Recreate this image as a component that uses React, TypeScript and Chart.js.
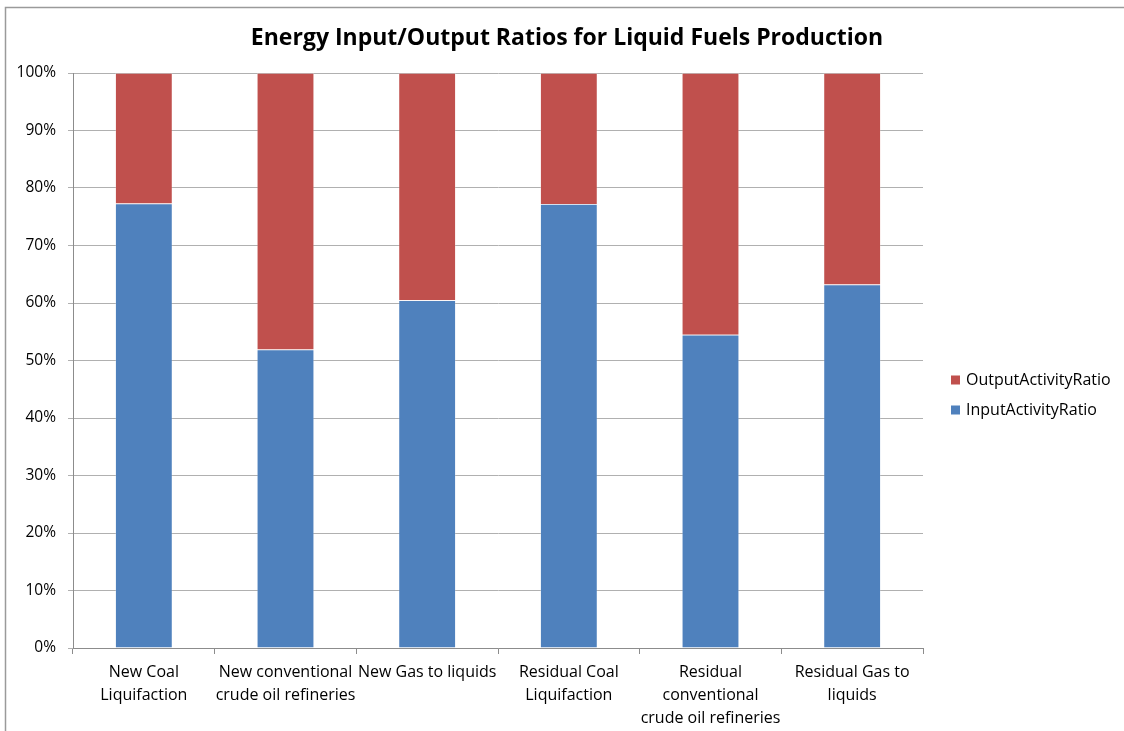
import React, { useEffect, useRef } from "react";
import { Chart, registerables } from "chart.js";

Chart.register(...registerables);

const chartTitle = "Energy Input/Output Ratios for Liquid Fuels Production";

const categories: string[][] = [
  ["New Coal", "Liquifaction"],
  ["New conventional", "crude oil refineries"],
  ["New Gas to liquids"],
  ["Residual Coal", "Liquifaction"],
  ["Residual", "conventional", "crude oil refineries"],
  ["Residual Gas to", "liquids"],
];

const inputActivityRatio = [77.3, 51.9, 60.5, 77.2, 54.5, 63.2];
const outputActivityRatio = [22.7, 48.1, 39.5, 22.8, 45.5, 36.8];

const yTicks = [0, 10, 20, 30, 40, 50, 60, 70, 80, 90, 100];

const FONT = "'Open Sans', 'Noto Sans', sans-serif";

// Outer frame of the chart object (left and top edges visible) and the title
const framePlugin = {
  id: "frame",
  beforeDraw(chart: Chart) {
    const ctx = chart.ctx;
    ctx.save();
    ctx.fillStyle = "#ffffff";
    ctx.fillRect(0, 0, chart.width, chart.height);
    ctx.strokeStyle = "#9a9a9a";
    ctx.lineWidth = 1.5;
    ctx.beginPath();
    ctx.moveTo(5.5, chart.height + 2);
    ctx.lineTo(5.5, 7.5);
    ctx.lineTo(chart.width + 2, 7.5);
    ctx.stroke();

    ctx.fillStyle = "#000000";
    ctx.font = `bold 23px ${FONT}`;
    ctx.textAlign = "center";
    ctx.textBaseline = "middle";
    ctx.fillText(chartTitle, 567, 38);
    ctx.restore();
  },
};

// Legend at the right, listed top-down in reverse stacking order
const sideLegendPlugin = {
  id: "sideLegend",
  afterDraw(chart: Chart) {
    const ctx = chart.ctx;
    const sets = chart.data.datasets.slice().reverse();
    ctx.save();
    ctx.font = `16px ${FONT}`;
    ctx.textBaseline = "middle";
    ctx.textAlign = "left";
    sets.forEach((ds: any, i: number) => {
      const cy = 380 + i * 30;
      ctx.fillStyle = ds.backgroundColor as string;
      ctx.fillRect(951, cy - 4.5, 9, 9);
      ctx.fillStyle = "#000000";
      ctx.fillText(ds.label as string, 966, cy);
    });
    ctx.restore();
  },
};

export default function App() {
  const canvasRef = useRef<HTMLCanvasElement | null>(null);

  useEffect(() => {
    if (!canvasRef.current) return;
    const chart = new Chart(canvasRef.current, {
      type: "bar",
      data: {
        labels: categories,
        datasets: [
          {
            label: "InputActivityRatio",
            data: inputActivityRatio,
            backgroundColor: "#4F81BD",
            borderColor: "rgba(255,255,255,0.3)",
            borderWidth: 0.75,
            barPercentage: 0.405,
            categoryPercentage: 1,
          },
          {
            label: "OutputActivityRatio",
            data: outputActivityRatio,
            backgroundColor: "#C0504D",
            borderColor: "rgba(255,255,255,0.3)",
            borderWidth: 0.75,
            barPercentage: 0.405,
            categoryPercentage: 1,
          },
        ],
      },
      options: {
        responsive: false,
        animation: false,
        layout: { padding: { left: 0, right: 201, top: 73, bottom: 0 } },
        plugins: {
          legend: { display: false },
          tooltip: { enabled: false },
          title: { display: false },
        },
        scales: {
          x: {
            stacked: true,
            offset: true,
            grid: {
              offset: true,
              drawOnChartArea: false,
              drawTicks: true,
              tickLength: 6,
              color: "#8c8c8c",
            },
            border: { display: true, color: "#8c8c8c", width: 1 },
            ticks: {
              autoSkip: false,
              maxRotation: 0,
              minRotation: 0,
              padding: 7,
              color: "#000000",
              font: { family: FONT, size: 16, lineHeight: 1.44 },
            },
            afterFit(scale: any) {
              scale.height = 83;
            },
          },
          y: {
            stacked: true,
            min: 0,
            max: 100,
            afterBuildTicks(scale: any) {
              scale.ticks = yTicks.map((v) => ({ value: v }));
            },
            grid: {
              color: "#b0b0b0",
              lineWidth: 1,
              drawTicks: true,
              tickLength: 5,
            },
            border: { display: true, color: "#8c8c8c", width: 1 },
            ticks: {
              padding: 12,
              color: "#000000",
              font: { family: FONT, size: 15.5 },
              callback: (v: any) => `${v}%`,
            },
            afterFit(scale: any) {
              scale.width = 73;
            },
          },
        },
      },
      plugins: [framePlugin, sideLegendPlugin],
    });
    return () => chart.destroy();
  }, []);

  return (
    <div style={{ position: "fixed", left: 0, top: 0, width: 1124, height: 731, background: "#fff" }}>
      <canvas ref={canvasRef} width={1124} height={731} style={{ display: "block" }} />
    </div>
  );
}
